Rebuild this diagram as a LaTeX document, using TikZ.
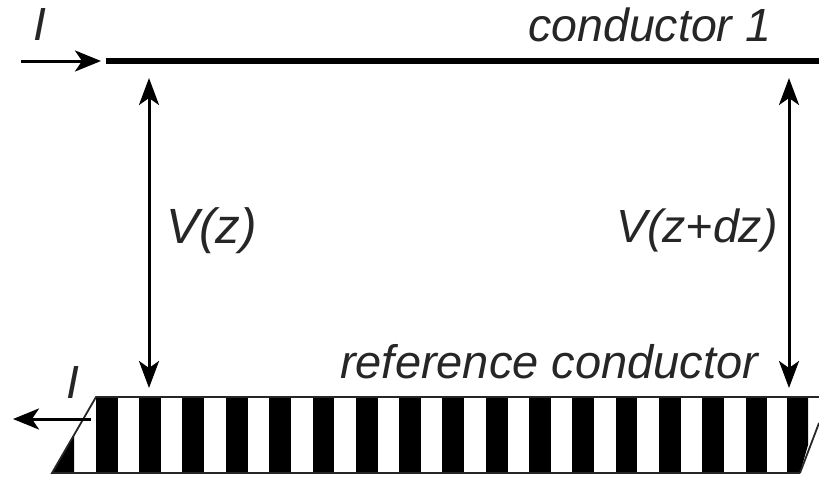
\documentclass[tikz,border=0pt]{standalone}
\usepackage{fontspec}
\setmainfont{Liberation Sans}
\usetikzlibrary{arrows.meta}
\tikzset{
  lbl/.style={inner sep=0pt,anchor=base west,font=\fontsize{46.5}{50}\selectfont\itshape,text=black!85},
  lblb/.style={inner sep=0pt,anchor=base west,font=\fontsize{47}{50}\selectfont\itshape,text=black!85},
  lblc/.style={inner sep=0pt,anchor=base west,font=\fontsize{49.5}{52}\selectfont\itshape,text=black!85},
  arr/.style={line width=3pt,{Stealth[length=27pt,width=20pt,inset=7pt]}-{Stealth[length=27pt,width=20pt,inset=7pt]}},
  arrone/.style={line width=3pt,-{Stealth[length=26pt,width=21pt,inset=7pt]}},
  stripe/.style={fill=black,draw=none},
}
\begin{document}
\begin{tikzpicture}[x=1pt,y=-1pt]
\useasboundingbox (0,0) rectangle (819,477);
\coordinate (c1a) at (106,61);
\coordinate (c1b) at (819,61);
\draw[line width=5.5pt] (c1a) -- (c1b);
\coordinate (i1a) at (21,61);
\coordinate (i1b) at (101,61);
\draw[arrone] (i1a) -- (i1b);
\node[lbl] (i1) at (33,40) {I};
\node[lbl] (cond) at (528,41.5) {conductor 1};
\coordinate (v1a) at (149,78);
\coordinate (v1b) at (149,388);
\draw[arr] (v1a) -- (v1b);
\coordinate (v2a) at (789,78);
\coordinate (v2b) at (789,388);
\draw[arr] (v2a) -- (v2b);
\node[lblc] (vz) at (166,243) {V(z)};
\node[lbl] (vzdz) at (616,242) {V(z+dz)};
\node[lblb] (ref) at (340,378) {reference conductor};
\foreach \x in {96,139,182.4,225.8,269.2,312.5,355.8,399.1,442.4,485.7,529,572.3,615.6,658.9,702.2,745.5}
  \fill[stripe] (\x,397) rectangle (\x+21.8,473);
\fill[stripe] (52,473) -- (74,473) -- (74,435) -- cycle;
\fill[stripe] (787,397) -- (808,397) -- (808,445) -- (800,473) -- (787,473) -- cycle;
\coordinate (pa) at (52,473);
\coordinate (pb) at (96,397);
\coordinate (pc) at (819,397);
\coordinate (pd) at (800,473);
\coordinate (pe) at (819,423);
\draw[line width=1.8pt,black!85] (pd) -- (pa) -- (pb) -- (pc);
\draw[line width=1.8pt,black!85] (pd) -- (pe);
\coordinate (i2a) at (91,419);
\coordinate (i2b) at (13,419);
\draw[arrone] (i2a) -- (i2b);
\node[lbl] (i2) at (66,398) {I};
\end{tikzpicture}
\end{document}
